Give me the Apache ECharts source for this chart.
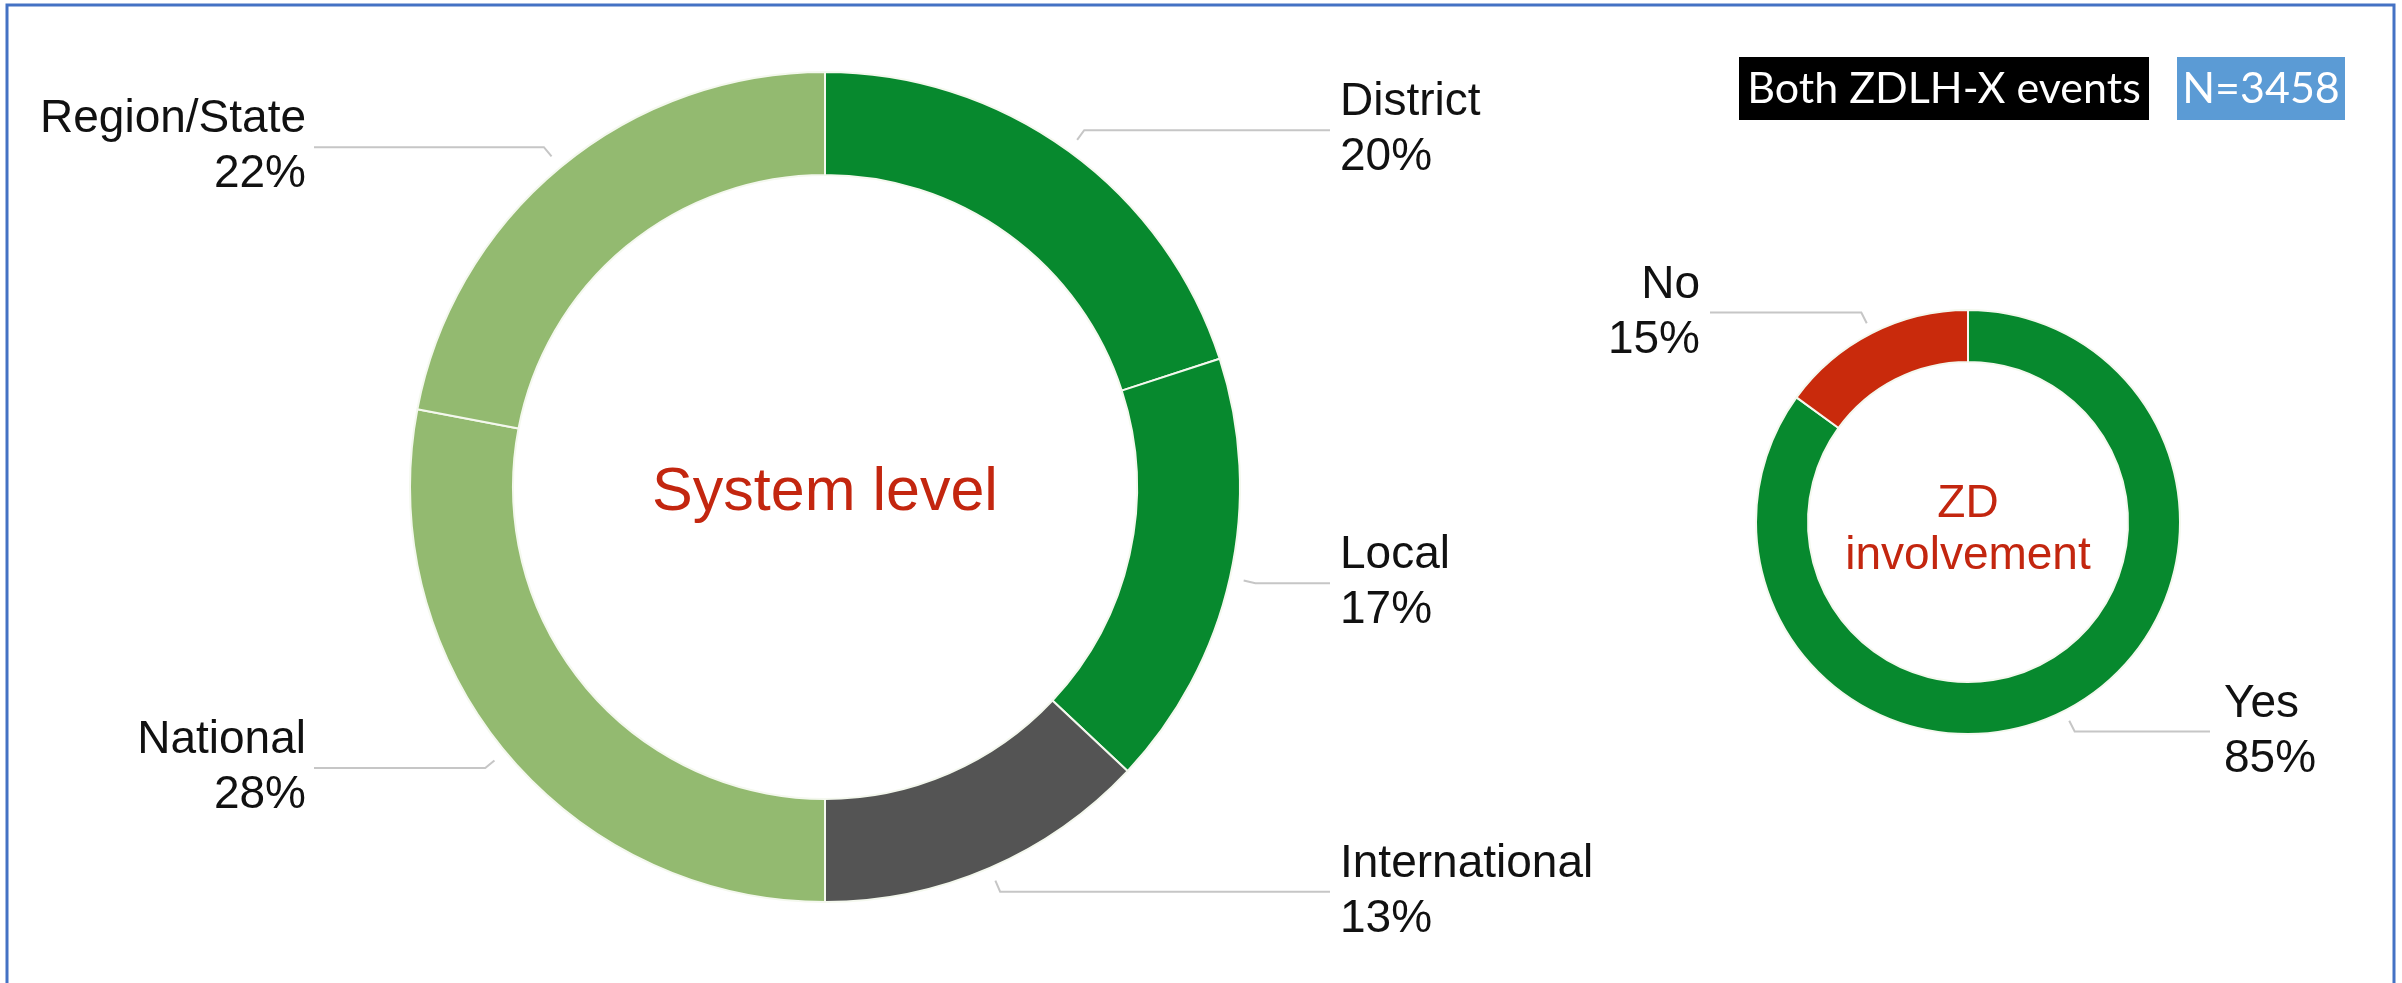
<!DOCTYPE html>
<html>
<head>
<meta charset="utf-8">
<title>System level / ZD involvement</title>
<script src="https://cdn.jsdelivr.net/npm/echarts@6/dist/echarts.min.js"></script>
<style>
  html, body { margin: 0; padding: 0; background: #fff; }
  #chart { width: 2402px; height: 983px; }
</style>
</head>
<body>
<div id="chart"></div>
<script>
// data
const levelNames = ['District', 'Local', 'International', 'National', 'Region/State'];
const levelShares = [20, 17, 13, 28, 22];
const zdNames = ['Yes', 'No'];
const zdShares = [85, 15];
const sampleLabel = 'N=3458';
const subsetLabel = 'Both ZDLH-X events';

const levelColors = ['#07892e', '#07892e', '#545454', '#93ba70', '#93ba70'];
const zdColors = ['#07892e', '#c92a0c'];

const HOOK = 12;
const labelFont = 'Liberation Sans, Arial, Helvetica, sans-serif';

// keep only a short hook of the radial segment and pull the line ends to a common x
function hookLayout(leftEnd, rightEnd, gapLeft, gapRight) {
  return function (params) {
    const pts = params.labelLinePoints;
    if (!pts) return {};
    const p0 = pts[0], p1 = pts[1], p2 = pts[2];
    const isLeft = p2[0] < p1[0];
    const dx = p0[0] - p1[0], dy = p0[1] - p1[1];
    const d = Math.sqrt(dx * dx + dy * dy) || 1;
    const hook = [p1[0] + dx / d * HOOK, p1[1] + dy / d * HOOK];
    const endX = isLeft ? leftEnd : rightEnd;
    return {
      x: isLeft ? endX - gapLeft : endX + gapRight,
      labelLinePoints: [hook, p1, [endX, p2[1]]]
    };
  };
}

function donut(names, values, colors, center, radius, lineLen, layout) {
  return {
    type: 'pie',
    center: center,
    radius: radius,
    startAngle: 90,
    clockwise: true,
    avoidLabelOverlap: false,
    silent: true,
    itemStyle: { borderColor: '#f4f8ee', borderWidth: 2 },
    label: {
      show: true,
      position: 'outside',
      formatter: '{b}\n{c}%',
      color: '#111',
      fontFamily: labelFont,
      fontSize: 46,
      lineHeight: 55
    },
    labelLine: {
      show: true,
      length: lineLen,
      length2: 40,
      smooth: false,
      lineStyle: { color: '#c6c6c6', width: 2 }
    },
    labelLayout: layout,
    data: names.map((n, i) => ({ name: n, value: values[i], itemStyle: { color: colors[i] } }))
  };
}

const myChart = echarts.init(document.getElementById('chart'));
myChart.setOption({
  animation: false,
  backgroundColor: '#fff',
  graphic: [
    {
      type: 'rect',
      shape: { x: 7, y: 5, width: 2387, height: 1000 },
      style: { fill: 'none', stroke: '#4472c4', lineWidth: 3 }
    },
    {
      type: 'rect',
      shape: { x: 1739, y: 57, width: 410, height: 63 },
      style: { fill: '#000' }
    },
    {
      type: 'text',
      style: {
        text: subsetLabel, x: 1944, y: 89, fill: '#fff',
        font: '43px Lato, "Open Sans", sans-serif',
        textAlign: 'center', textVerticalAlign: 'middle'
      }
    },
    {
      type: 'rect',
      shape: { x: 2177, y: 57, width: 168, height: 63 },
      style: { fill: '#5b9bd5' }
    },
    {
      type: 'text',
      style: {
        text: sampleLabel, x: 2261, y: 89, fill: '#fff',
        font: '43px Lato, "Open Sans", sans-serif',
        textAlign: 'center', textVerticalAlign: 'middle'
      }
    },
    {
      type: 'text',
      style: {
        text: 'System level', x: 825, y: 493, fill: '#c3260f',
        font: '61px ' + labelFont,
        textAlign: 'center', textVerticalAlign: 'middle'
      }
    },
    {
      type: 'text',
      style: {
        text: 'ZD\ninvolvement', x: 1968, y: 530, fill: '#c3260f',
        font: '46px ' + labelFont, lineHeight: 52,
        textAlign: 'center', textVerticalAlign: 'middle'
      }
    }
  ],
  series: [
    donut(levelNames, levelShares, levelColors, [825, 487], [312, 415], 26,
      hookLayout(314, 1330, 8, 10)),
    donut(zdNames, zdShares, zdColors, [1968, 522], [160, 212], 23,
      hookLayout(1710, 2210, 10, 14))
  ]
});
</script>
</body>
</html>
